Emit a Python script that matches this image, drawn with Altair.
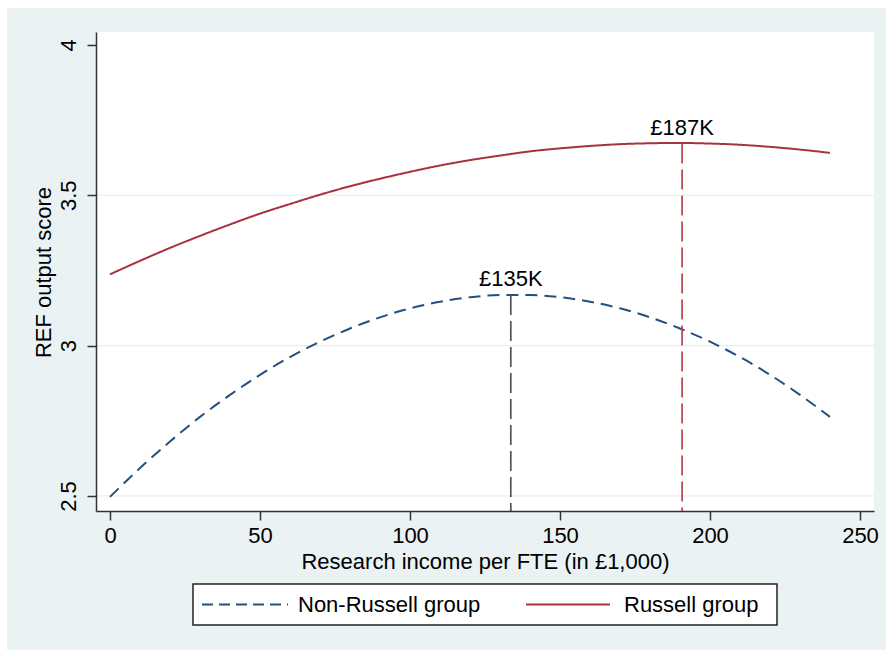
import altair as alt
import pandas as pd

# ---------------- data ----------------
income = [0, 10, 20, 30, 40, 50, 60, 70, 80, 90, 100, 110, 120,
          130, 140, 150, 160, 170, 180, 190, 200, 210, 220, 230, 240]
russell = [3.237, 3.282, 3.325, 3.365, 3.403, 3.439, 3.471, 3.502, 3.530,
           3.555, 3.578, 3.599, 3.617, 3.632, 3.646, 3.656, 3.664, 3.670,
           3.673, 3.674, 3.672, 3.668, 3.661, 3.652, 3.641]
non_russell = [2.497, 2.593, 2.681, 2.763, 2.836, 2.903, 2.962, 3.013, 3.057,
               3.094, 3.124, 3.146, 3.161, 3.168, 3.168, 3.161, 3.146, 3.124,
               3.094, 3.057, 3.013, 2.962, 2.903, 2.836, 2.763]
group_names = ["Non-Russell group", "Russell group"]
peak_x = [133.6, 190.7]
peak_top = [3.168, 3.672]
peak_bottom = [2.45, 2.45]
peak_labels = ["£135K", "£187K"]
x_ticks = [0, 50, 100, 150, 200, 250]
y_ticks = [2.5, 3, 3.5, 4]
grid_values = [2.5, 3, 3.5]

# ---------------- styling ----------------
W, H = 778, 479
FONT = "Liberation Sans"
FS = 22
BG = "#eaf2f3"
BLUE = "#23507f"
RED = "#a8323d"
VRED = "#b8464f"
VGRAY = "#555555"
AXC = "#333333"

curves = pd.DataFrame({
    "income": income * 2,
    "score": non_russell + russell,
    "group": [group_names[0]] * len(income) + [group_names[1]] * len(income),
})
peaks = pd.DataFrame({"x": peak_x, "top": peak_top, "bottom": peak_bottom,
                      "label": peak_labels, "group": group_names})
grid = pd.DataFrame({"g": grid_values})

xscale = alt.Scale(domain=[-4.667, 254.667], nice=False, zero=False)
yscale = alt.Scale(domain=[2.45, 4.043], nice=False, zero=False)

xaxis = alt.Axis(values=x_ticks, grid=False, domainColor=AXC, domainWidth=1.5,
                 tickColor=AXC, tickWidth=1.5, tickSize=9, labelFont=FONT,
                 labelFontSize=FS, labelColor="black", labelPadding=5,
                 labelFlush=False, title="Research income per FTE (in £1,000)",
                 titleFont=FONT, titleFontSize=FS, titleFontWeight="normal",
                 titleColor="black", titleY=57, titleBaseline="alphabetic",
                 zindex=1)
yaxis = alt.Axis(values=y_ticks, format="~g", grid=False, domainColor=AXC,
                 domainWidth=1.5, tickColor=AXC, tickWidth=1.5, tickSize=9,
                 labelFont=FONT, labelFontSize=FS, labelColor="black",
                 labelPadding=7, labelAngle=270, labelAlign="center",
                 labelBaseline="bottom", labelFlush=False,
                 title="REF output score", titleFont=FONT, titleFontSize=FS,
                 titleFontWeight="normal", titleColor="black", titleAngle=270,
                 titleX=-53, titleY=240, titleAlign="center",
                 titleBaseline="middle", zindex=1)

base_anchor = pd.DataFrame({"a": [0]})

outer_bg = alt.Chart(base_anchor).mark_rect(color=BG).encode(
    x=alt.value(-89), x2=alt.value(800), y=alt.value(-24), y2=alt.value(630))
plot_bg = alt.Chart(base_anchor).mark_rect(color="white").encode(
    x=alt.value(0), x2=alt.value(W), y=alt.value(0), y2=alt.value(H))

grid_rules = alt.Chart(grid).mark_rule(color="#e3eef1", strokeWidth=1.2).encode(
    y=alt.Y("g:Q", scale=yscale, axis=yaxis))

lines = alt.Chart(curves).mark_line(strokeWidth=2, interpolate="monotone").encode(
    x=alt.X("income:Q", scale=xscale, axis=xaxis),
    y=alt.Y("score:Q", scale=yscale, axis=yaxis),
    color=alt.Color("group:N", scale=alt.Scale(domain=group_names, range=[BLUE, RED]), legend=None),
    strokeDash=alt.StrokeDash("group:N", scale=alt.Scale(domain=group_names, range=[[12, 7], [1, 0]]), legend=None),
    detail="group:N",
)

vlines = alt.Chart(peaks).mark_rule(strokeWidth=1.7, strokeDash=[20, 6]).encode(
    x=alt.X("x:Q", scale=xscale, axis=xaxis),
    y=alt.Y("top:Q", scale=yscale, axis=yaxis),
    y2="bottom:Q",
    color=alt.Color("group:N", scale=alt.Scale(domain=group_names, range=[VGRAY, VRED]), legend=None),
)

vlabels = alt.Chart(peaks).mark_text(font=FONT, fontSize=FS, color="black",
                                     baseline="alphabetic", dy=-9).encode(
    x=alt.X("x:Q", scale=xscale, axis=xaxis),
    y=alt.Y("top:Q", scale=yscale, axis=yaxis),
    text="label:N",
)

# manual legend (box at the bottom, styled like the reference)
leg_box = alt.Chart(base_anchor).mark_rect(fill="white", stroke="#222222", strokeWidth=1.5).encode(
    x=alt.value(97), x2=alt.value(681), y=alt.value(552), y2=alt.value(593))
leg_df1 = pd.DataFrame({"label": [group_names[0]]})
leg_df2 = pd.DataFrame({"label": [group_names[1]]})
leg_line1 = alt.Chart(leg_df1).mark_rule(color=BLUE, strokeWidth=2, strokeDash=[11, 6]).encode(
    x=alt.value(106), x2=alt.value(192), y=alt.value(572.5))
leg_text1 = alt.Chart(leg_df1).mark_text(font=FONT, fontSize=FS, color="black",
                                         align="left", baseline="middle").encode(
    x=alt.value(202), y=alt.value(573), text="label:N")
leg_line2 = alt.Chart(leg_df2).mark_rule(color=RED, strokeWidth=2).encode(
    x=alt.value(430), x2=alt.value(514), y=alt.value(572.5))
leg_text2 = alt.Chart(leg_df2).mark_text(font=FONT, fontSize=FS, color="black",
                                         align="left", baseline="middle").encode(
    x=alt.value(528), y=alt.value(573), text="label:N")

chart = alt.layer(
    outer_bg, plot_bg, grid_rules, lines, vlines, vlabels,
    leg_box, leg_line1, leg_text1, leg_line2, leg_text2,
).resolve_scale(color="independent", strokeDash="independent").properties(
    width=W, height=H,
    autosize=alt.AutoSizeParams(type="none"),
    padding={"left": 96, "top": 32, "right": 12, "bottom": 139},
    background="white",
).configure_view(stroke=None)

chart.save("out.html", embed_options={"renderer": "svg", "actions": False})
